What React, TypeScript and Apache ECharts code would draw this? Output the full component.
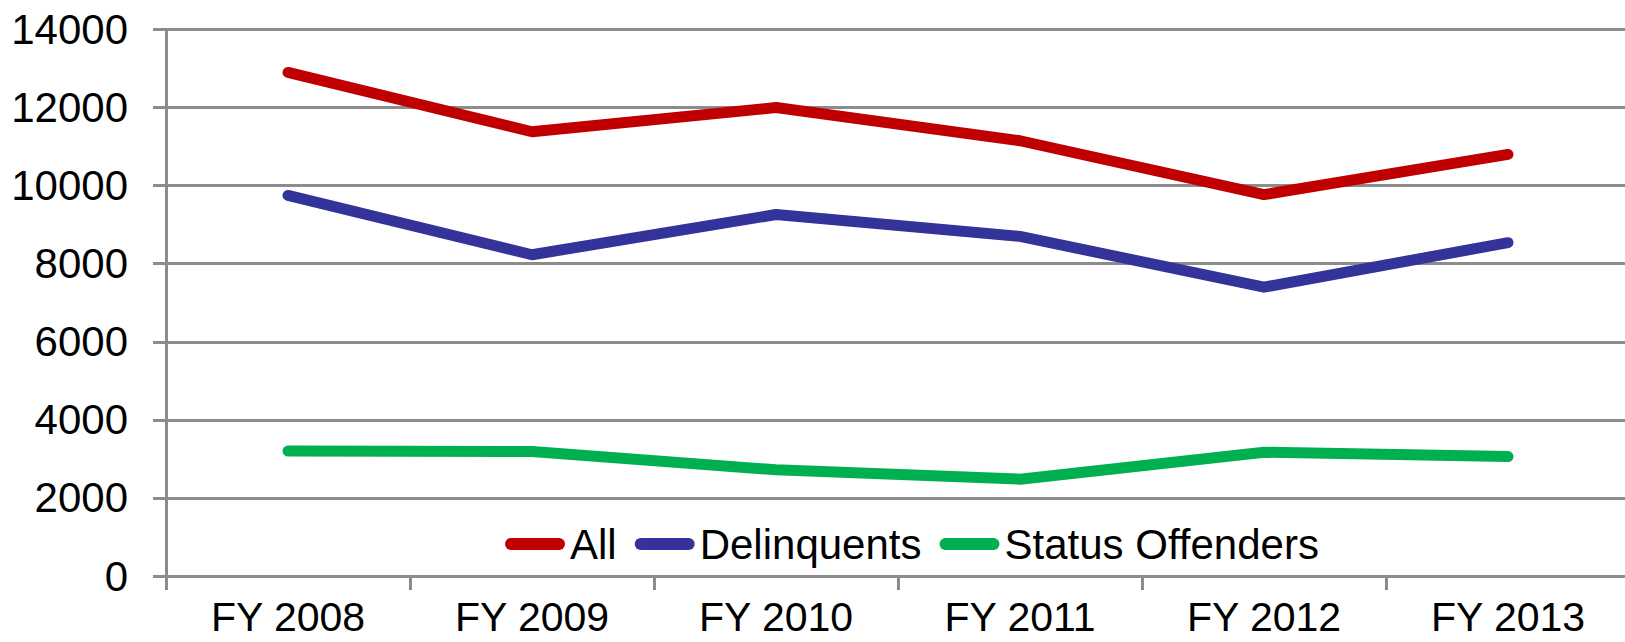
import React, { useEffect, useRef } from "react";
import * as echarts from "echarts";

const categories = ["FY 2008", "FY 2009", "FY 2010", "FY 2011", "FY 2012", "FY 2013"];
const allValues = [12900, 11380, 12000, 11150, 9770, 10800];
const delinquentValues = [9750, 8230, 9260, 8700, 7400, 8540];
const statusValues = [3200, 3190, 2720, 2480, 3170, 3060];
const yTicks = { min: 0, max: 14000, interval: 2000 };

const seriesNames = ["All", "Delinquents", "Status Offenders"];
const seriesColors = ["#C00000", "#333399", "#00B050"];

const pill = "path://M6,0 H54 A6,6 0 0 1 54,12 H6 A6,6 0 0 1 6,0 Z";

export default function App() {
  const ref = useRef<HTMLDivElement>(null);
  useEffect(() => {
    if (!ref.current) return;
    const chart = echarts.init(ref.current, null, { renderer: "svg" });
    const font = "Liberation Sans, Arial, sans-serif";
    const dataSets = [allValues, delinquentValues, statusValues];
    chart.setOption({
      animation: false,
      backgroundColor: "#ffffff",
      grid: { left: 166, right: 0, top: 29.5, bottom: 66, containLabel: false },
      legend: {
        left: 500,
        top: 518,
        itemWidth: 60,
        itemHeight: 12,
        itemGap: 18,
        icon: pill,
        data: seriesNames,
        textStyle: { fontFamily: font, fontSize: 42, color: "#000" },
      },
      xAxis: {
        type: "category",
        data: categories,
        boundaryGap: true,
        axisLine: { lineStyle: { color: "#8c8c8c", width: 3 } },
        axisTick: { show: true, length: 14, lineStyle: { color: "#8c8c8c", width: 3 } },
        axisLabel: { fontFamily: font, fontSize: 41, lineHeight: 40, color: "#000", margin: 21 },
      },
      yAxis: {
        type: "value",
        min: yTicks.min,
        max: yTicks.max,
        interval: yTicks.interval,
        axisLine: { show: true, lineStyle: { color: "#8c8c8c", width: 3 } },
        axisTick: { show: true, length: 13, lineStyle: { color: "#8c8c8c", width: 3 } },
        splitLine: { lineStyle: { color: "#8c8c8c", width: 3 } },
        axisLabel: {
          fontFamily: font,
          fontSize: 42,
          color: "#000",
          margin: 38,
          formatter: (v: number) => String(v),
        },
      },
      series: seriesNames.map((name, i) => ({
        name,
        type: "line",
        data: dataSets[i],
        symbol: "none",
        color: seriesColors[i],
        lineStyle: { width: 11, color: seriesColors[i], cap: "round", join: "round" },
        itemStyle: { color: seriesColors[i] },
      })),
    });
    return () => chart.dispose();
  }, []);
  return (
    <div style={{ position: "absolute", left: 0, top: 0, width: 1625, height: 642, overflow: "hidden", background: "#fff" }}>
      <div ref={ref} style={{ width: 1630, height: 642 }} />
    </div>
  );
}
